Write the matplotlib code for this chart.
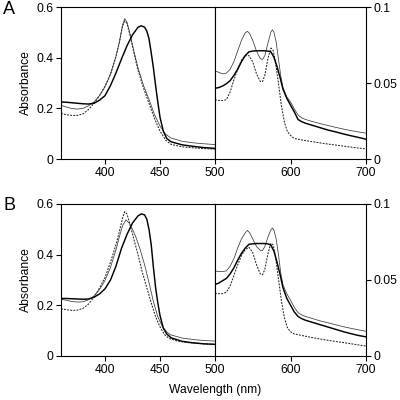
import numpy as np
import matplotlib
matplotlib.use("Agg")
import matplotlib.pyplot as plt

plt.rcParams["font.family"] = ["Liberation Sans", "DejaVu Sans"]

# ---- Soret region (360-500 nm), panel A ----
a_soret_thick_wl = [360, 365, 370, 375, 380, 385, 390, 395, 400, 405, 410, 415, 420, 425, 430, 433,
                    436, 438, 440, 442, 444, 446, 448, 450, 453, 456, 460, 470, 480, 490, 500]
a_soret_thick = [0.225, 0.224, 0.222, 0.220, 0.218, 0.217, 0.220, 0.232, 0.250, 0.290, 0.340, 0.395,
                 0.447, 0.490, 0.520, 0.526, 0.520, 0.505, 0.475, 0.420, 0.360, 0.290, 0.225, 0.165,
                 0.110, 0.082, 0.068, 0.056, 0.050, 0.045, 0.042]

a_soret_thin_wl = [360, 365, 370, 375, 380, 385, 390, 395, 400, 405, 410, 413, 416, 418, 420, 423,
                   426, 430, 435, 440, 445, 450, 455, 460, 470, 480, 490, 500]
a_soret_thin = [0.212, 0.205, 0.199, 0.197, 0.200, 0.210, 0.225, 0.250, 0.285, 0.335, 0.405, 0.460,
                0.530, 0.554, 0.540, 0.490, 0.430, 0.360, 0.290, 0.235, 0.175, 0.130, 0.098, 0.083,
                0.070, 0.064, 0.060, 0.057]

a_soret_dot_wl = [360, 365, 370, 375, 380, 385, 390, 395, 400, 405, 410, 413, 416, 418, 420, 423,
                  426, 430, 435, 440, 445, 450, 455, 460, 470, 480, 490, 500]
a_soret_dot = [0.180, 0.175, 0.172, 0.172, 0.178, 0.195, 0.220, 0.250, 0.287, 0.335, 0.405, 0.460,
               0.525, 0.545, 0.535, 0.485, 0.425, 0.350, 0.280, 0.220, 0.160, 0.110, 0.075, 0.058,
               0.048, 0.044, 0.041, 0.039]

# ---- Soret region, panel B ----
b_soret_thick_wl = [360, 365, 370, 375, 380, 385, 390, 395, 400, 405, 410, 415, 420, 425, 430, 433,
                    436, 438, 440, 442, 444, 446, 448, 450, 453, 456, 460, 470, 480, 490, 500]
b_soret_thick = [0.227, 0.227, 0.226, 0.225, 0.224, 0.225, 0.232, 0.245, 0.265, 0.300, 0.355, 0.425,
                 0.480, 0.525, 0.553, 0.561, 0.557, 0.540, 0.500, 0.440, 0.350, 0.270, 0.210, 0.160,
                 0.110, 0.088, 0.072, 0.058, 0.052, 0.048, 0.046]

b_soret_thin_wl = [360, 365, 370, 375, 380, 385, 390, 395, 400, 405, 410, 413, 416, 419, 422, 425,
                   428, 432, 436, 440, 444, 448, 452, 456, 460, 470, 480, 490, 500]
b_soret_thin = [0.224, 0.220, 0.215, 0.213, 0.214, 0.222, 0.237, 0.262, 0.298, 0.350, 0.420, 0.470,
                0.515, 0.537, 0.525, 0.500, 0.470, 0.420, 0.360, 0.290, 0.215, 0.155, 0.118, 0.095,
                0.083, 0.071, 0.065, 0.061, 0.059]

b_soret_dot_wl = [360, 365, 370, 375, 380, 385, 390, 395, 400, 405, 410, 413, 416, 418, 420, 423,
                  426, 430, 434, 438, 442, 446, 450, 454, 458, 465, 475, 490, 500]
b_soret_dot = [0.186, 0.183, 0.180, 0.181, 0.188, 0.205, 0.232, 0.268, 0.310, 0.370, 0.440, 0.490,
               0.545, 0.570, 0.560, 0.515, 0.465, 0.400, 0.330, 0.270, 0.210, 0.155, 0.115, 0.085,
               0.070, 0.060, 0.053, 0.048, 0.046]

# ---- Q-band region (500-700 nm), panel A ----
a_q_thin_wl = [500, 505, 510, 515, 520, 525, 530, 535, 540, 543, 546, 550, 555, 560, 563, 566, 570,
               574, 576, 578, 581, 584, 587, 590, 595, 600, 605, 610, 615, 620, 630, 640, 650, 660,
               670, 680, 690, 700]
a_q_thin = [0.058, 0.057, 0.056, 0.0565, 0.059, 0.064, 0.071, 0.078, 0.083, 0.084, 0.0825, 0.078,
            0.071, 0.066, 0.0655, 0.068, 0.076, 0.0835, 0.085, 0.0835, 0.077, 0.066, 0.055, 0.047,
            0.041, 0.0375, 0.033, 0.029, 0.027, 0.026, 0.0245, 0.0232, 0.022, 0.0208, 0.0197,
            0.0187, 0.0178, 0.017]

a_q_thick_wl = [500, 505, 510, 515, 520, 525, 530, 535, 540, 545, 550, 555, 560, 565, 570, 574, 578,
                582, 586, 590, 595, 600, 605, 610, 615, 620, 630, 640, 650, 660, 670, 680, 690, 700]
a_q_thick = [0.0465, 0.047, 0.048, 0.0495, 0.0515, 0.055, 0.059, 0.064, 0.068, 0.0705, 0.071,
             0.0712, 0.0712, 0.0712, 0.071, 0.0705, 0.067, 0.061, 0.054, 0.046, 0.040, 0.0355,
             0.031, 0.026, 0.0245, 0.0235, 0.022, 0.0205, 0.019, 0.0178, 0.0165, 0.0153, 0.0142,
             0.013]

a_q_dot_wl = [500, 505, 510, 515, 520, 525, 530, 535, 540, 545, 550, 555, 560, 563, 566, 570, 574,
              577, 580, 584, 588, 592, 596, 600, 605, 615, 630, 650, 670, 690, 700]
a_q_dot = [0.039, 0.0385, 0.0385, 0.039, 0.044, 0.052, 0.059, 0.065, 0.068, 0.068, 0.064, 0.056,
           0.051, 0.051, 0.055, 0.066, 0.073, 0.0715, 0.064, 0.050, 0.035, 0.024, 0.018, 0.0155,
           0.0135, 0.0125, 0.0113, 0.0098, 0.0085, 0.0072, 0.0066]

# ---- Q-band region, panel B ----
b_q_thin_wl = [500, 505, 510, 515, 520, 525, 530, 535, 540, 543, 546, 550, 555, 560, 563, 566, 570,
               574, 576, 578, 581, 584, 587, 590, 595, 600, 605, 610, 615, 620, 630, 640, 650, 660,
               670, 680, 690, 700]
b_q_thin = [0.056, 0.0555, 0.0555, 0.056, 0.059, 0.064, 0.071, 0.077, 0.081, 0.0826, 0.081, 0.077,
            0.072, 0.0695, 0.0695, 0.072, 0.078, 0.083, 0.0841, 0.083, 0.077, 0.067, 0.055, 0.047,
            0.041, 0.0368, 0.032, 0.0285, 0.027, 0.026, 0.0245, 0.023, 0.0218, 0.0205, 0.0193,
            0.0182, 0.0172, 0.0163]

b_q_thick_wl = [500, 505, 510, 515, 520, 525, 530, 535, 540, 545, 550, 555, 560, 565, 570, 574, 578,
                582, 586, 590, 595, 600, 605, 610, 615, 620, 630, 640, 650, 660, 670, 680, 690, 700]
b_q_thick = [0.047, 0.048, 0.0495, 0.051, 0.054, 0.058, 0.063, 0.0675, 0.071, 0.0735, 0.0738,
             0.074, 0.074, 0.074, 0.0738, 0.073, 0.069, 0.062, 0.054, 0.045, 0.038, 0.0335, 0.029,
             0.026, 0.0245, 0.0235, 0.022, 0.0205, 0.019, 0.0175, 0.016, 0.0147, 0.0135, 0.0126]

b_q_dot_wl = [500, 505, 510, 515, 520, 525, 530, 535, 540, 545, 550, 555, 560, 563, 566, 570, 574,
              577, 580, 584, 588, 592, 596, 600, 605, 615, 630, 650, 670, 690, 700]
b_q_dot = [0.0412, 0.041, 0.041, 0.042, 0.046, 0.053, 0.060, 0.066, 0.070, 0.0715, 0.068, 0.060,
           0.054, 0.0535, 0.057, 0.067, 0.0742, 0.073, 0.066, 0.051, 0.036, 0.025, 0.0185, 0.016,
           0.0145, 0.0135, 0.012, 0.0103, 0.0088, 0.0073, 0.0065]

soret_yticks = [0, 0.2, 0.4, 0.6]
soret_ylabels = ["0", "0.2", "0.4", "0.6"]
q_yticks = [0, 0.05, 0.1]
q_ylabels = ["0", "0.05", "0.1"]

FS = 8.7
THICK = dict(color="black", lw=1.05, solid_capstyle="butt")
THIN = dict(color="#3a3a3a", lw=0.55)
DOT = dict(color="#222222", lw=0.75, linestyle=(0, (1.8, 1.2)))


def style_axis(ax):
    for sp in ax.spines.values():
        sp.set_linewidth(0.8)
    ax.tick_params(direction="out", length=3.5, width=0.8, labelsize=FS, pad=2)


def draw_row(fig, bottom, letter, soret, q, show_xlabel):
    ax1 = fig.add_axes([0.1525, bottom, 0.385, 0.38])
    ax2 = fig.add_axes([0.5375, bottom, 0.3775, 0.38])

    (thk_wl, thk), (thn_wl, thn), (dt_wl, dt) = soret
    ax1.plot(dt_wl, dt, **DOT)
    ax1.plot(thn_wl, thn, **THIN)
    ax1.plot(thk_wl, thk, **THICK)
    ax1.set_xlim(360, 500)
    ax1.set_ylim(0, 0.6)
    ax1.set_xticks([400, 450, 500])
    ax1.set_yticks(soret_yticks)
    ax1.set_yticklabels(soret_ylabels)
    ax1.set_ylabel("Absorbance", fontsize=FS, labelpad=3)
    style_axis(ax1)

    (thk_wl, thk), (thn_wl, thn), (dt_wl, dt) = q
    ax2.plot(dt_wl, dt, **DOT)
    ax2.plot(thn_wl, thn, **THIN)
    ax2.plot(thk_wl, thk, **THICK)
    ax2.set_xlim(500, 700)
    ax2.set_ylim(0, 0.1)
    ax2.set_xticks([600, 700])
    ax2.set_yticks(q_yticks)
    ax2.set_yticklabels(q_ylabels)
    ax2.yaxis.tick_right()
    style_axis(ax2)
    ax2.tick_params(left=False)

    fig.text(0.008, bottom + 0.38 - 0.005, letter, fontsize=13, va="center", ha="left")
    if show_xlabel:
        fig.text(0.5375, bottom - 0.085, "Wavelength (nm)", fontsize=FS, ha="center", va="center")


fig = plt.figure(figsize=(4, 4), dpi=100)

draw_row(fig, 0.6025, "A",
         [(a_soret_thick_wl, a_soret_thick), (a_soret_thin_wl, a_soret_thin), (a_soret_dot_wl, a_soret_dot)],
         [(a_q_thick_wl, a_q_thick), (a_q_thin_wl, a_q_thin), (a_q_dot_wl, a_q_dot)],
         False)
draw_row(fig, 0.11, "B",
         [(b_soret_thick_wl, b_soret_thick), (b_soret_thin_wl, b_soret_thin), (b_soret_dot_wl, b_soret_dot)],
         [(b_q_thick_wl, b_q_thick), (b_q_thin_wl, b_q_thin), (b_q_dot_wl, b_q_dot)],
         True)

fig.savefig("out.png", dpi=100)
plt.close(fig)
